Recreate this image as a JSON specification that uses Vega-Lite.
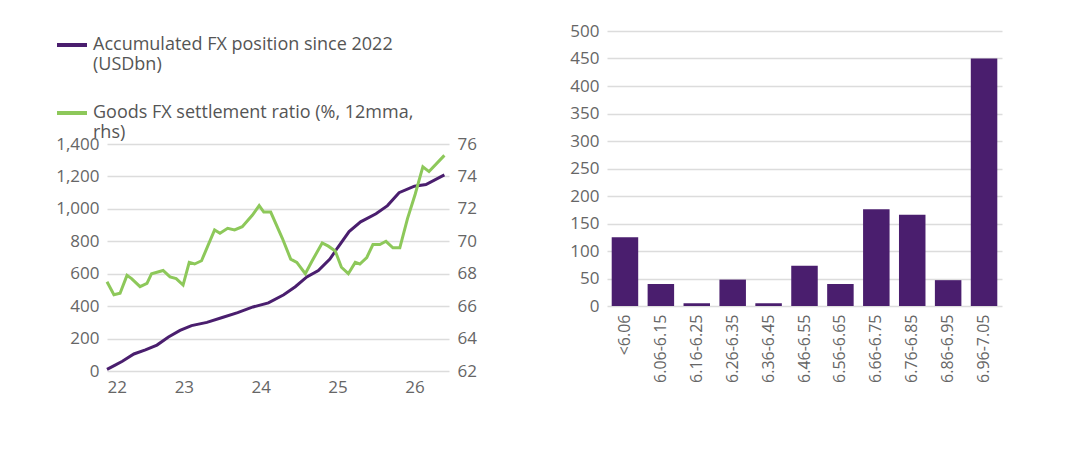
{
  "$schema": "https://vega.github.io/schema/vega-lite/v6.json",
  "background": "white",
  "padding": {"left": 55, "top": 22, "right": 5, "bottom": 5},
  "spacing": 92,
  "datasets": {
    "fx": [
      {"t": 22.0, "v": 10}, {"t": 22.1, "v": 35}, {"t": 22.2, "v": 60}, {"t": 22.35, "v": 105},
      {"t": 22.5, "v": 130}, {"t": 22.65, "v": 160}, {"t": 22.8, "v": 210}, {"t": 22.95, "v": 250},
      {"t": 23.1, "v": 280}, {"t": 23.3, "v": 300}, {"t": 23.5, "v": 330}, {"t": 23.7, "v": 360},
      {"t": 23.9, "v": 395}, {"t": 24.1, "v": 420}, {"t": 24.3, "v": 470}, {"t": 24.45, "v": 520},
      {"t": 24.6, "v": 580}, {"t": 24.75, "v": 620}, {"t": 24.9, "v": 690}, {"t": 25.0, "v": 760},
      {"t": 25.15, "v": 860}, {"t": 25.3, "v": 920}, {"t": 25.5, "v": 970}, {"t": 25.65, "v": 1020},
      {"t": 25.8, "v": 1100}, {"t": 26.0, "v": 1140}, {"t": 26.15, "v": 1150}, {"t": 26.39, "v": 1210}
    ],
    "ratio": [
      {"t": 22.0, "r": 67.5}, {"t": 22.09, "r": 66.7}, {"t": 22.17, "r": 66.8}, {"t": 22.26, "r": 67.9},
      {"t": 22.32, "r": 67.7}, {"t": 22.43, "r": 67.2}, {"t": 22.52, "r": 67.4}, {"t": 22.58, "r": 68.0},
      {"t": 22.73, "r": 68.2}, {"t": 22.82, "r": 67.8}, {"t": 22.9, "r": 67.7}, {"t": 22.99, "r": 67.3},
      {"t": 23.07, "r": 68.7}, {"t": 23.14, "r": 68.6}, {"t": 23.23, "r": 68.8}, {"t": 23.4, "r": 70.7},
      {"t": 23.47, "r": 70.5}, {"t": 23.57, "r": 70.8}, {"t": 23.66, "r": 70.7}, {"t": 23.76, "r": 70.9},
      {"t": 23.89, "r": 71.6}, {"t": 23.98, "r": 72.2}, {"t": 24.04, "r": 71.8}, {"t": 24.13, "r": 71.8},
      {"t": 24.28, "r": 70.2}, {"t": 24.39, "r": 68.9}, {"t": 24.47, "r": 68.7}, {"t": 24.58, "r": 68.0},
      {"t": 24.67, "r": 68.8}, {"t": 24.8, "r": 69.9}, {"t": 24.88, "r": 69.7}, {"t": 24.97, "r": 69.4},
      {"t": 25.05, "r": 68.4}, {"t": 25.14, "r": 68.0}, {"t": 25.23, "r": 68.7}, {"t": 25.29, "r": 68.6},
      {"t": 25.38, "r": 69.0}, {"t": 25.46, "r": 69.8}, {"t": 25.55, "r": 69.8}, {"t": 25.63, "r": 70.0},
      {"t": 25.72, "r": 69.6}, {"t": 25.81, "r": 69.6}, {"t": 25.91, "r": 71.4}, {"t": 26.01, "r": 72.9},
      {"t": 26.11, "r": 74.6}, {"t": 26.19, "r": 74.3}, {"t": 26.39, "r": 75.3}
    ],
    "bins": [
      {"b": "<6.06", "n": 125}, {"b": "6.06-6.15", "n": 40}, {"b": "6.16-6.25", "n": 5},
      {"b": "6.26-6.35", "n": 48}, {"b": "6.36-6.45", "n": 5}, {"b": "6.46-6.55", "n": 73},
      {"b": "6.56-6.65", "n": 40}, {"b": "6.66-6.75", "n": 176}, {"b": "6.76-6.85", "n": 166},
      {"b": "6.86-6.95", "n": 47}, {"b": "6.96-7.05", "n": 450}
    ]
  },
  "config": {
    "font": "Open Sans",
    "view": {"stroke": null},
    "axis": {"labelColor": "#666", "labelFontSize": 17, "domain": false, "ticks": false, "gridColor": "#dcdcdc", "title": null, "labelPadding": 8}
  },
  "hconcat": [
    {
      "width": 342,
      "height": 340,
      "layer": [
        {
          "data": {"name": "fx"},
          "mark": {"type": "line", "strokeWidth": 3},
          "encoding": {
            "x": {"field": "t", "type": "quantitative", "scale": {"domain": [22, 26.45], "nice": false},
              "axis": {"values": [22, 23, 24, 25, 26], "format": "d", "grid": false}},
            "y": {"field": "v", "type": "quantitative", "scale": {"domain": [0, 2097], "nice": false},
              "axis": {"values": [0, 200, 400, 600, 800, 1000, 1200, 1400], "format": ",d", "gridWidth": 1.5}},
            "color": {"datum": "Accumulated FX position since 2022 (USDbn)", "type": "nominal",
              "scale": {"domain": ["Accumulated FX position since 2022 (USDbn)", "Goods FX settlement ratio (%, 12mma, rhs)"], "range": ["#4a1e6e", "#8dc85a"]},
              "legend": {"orient": "none", "legendX": -52, "legendY": -3, "title": null, "symbolType": "stroke", "symbolStrokeWidth": 4, "symbolSize": 900,
                "labelFontSize": 18, "labelColor": "#555", "rowPadding": 22, "labelLimit": 400, "labelOffset": 4,
                "labelExpr": "datum.label == 'Accumulated FX position since 2022 (USDbn)' ? ['Accumulated FX position since 2022', '(USDbn)'] : ['Goods FX settlement ratio (%, 12mma,', 'rhs)']"}}
          }
        },
        {
          "data": {"name": "ratio"},
          "mark": {"type": "line", "strokeWidth": 3},
          "encoding": {
            "x": {"field": "t", "type": "quantitative"},
            "y": {"field": "r", "type": "quantitative", "scale": {"domain": [62, 82.97], "nice": false},
              "axis": {"orient": "right", "values": [62, 64, 66, 68, 70, 72, 74, 76], "grid": false}},
            "color": {"datum": "Goods FX settlement ratio (%, 12mma, rhs)", "type": "nominal"}
          }
        }
      ],
      "resolve": {"scale": {"y": "independent"}}
    },
    {
      "width": 395,
      "height": 275,
      "data": {"name": "bins"},
      "mark": {"type": "bar", "color": "#4a1e6e", "width": {"band": 0.82}},
      "encoding": {
        "x": {"field": "b", "type": "nominal", "sort": null, "axis": {"labelAngle": -90, "labelFontSize": 16}},
        "y": {"field": "n", "type": "quantitative", "scale": {"domain": [0, 500]},
          "axis": {"values": [0, 50, 100, 150, 200, 250, 300, 350, 400, 450, 500], "gridWidth": 1.5}}
      }
    }
  ]
}
